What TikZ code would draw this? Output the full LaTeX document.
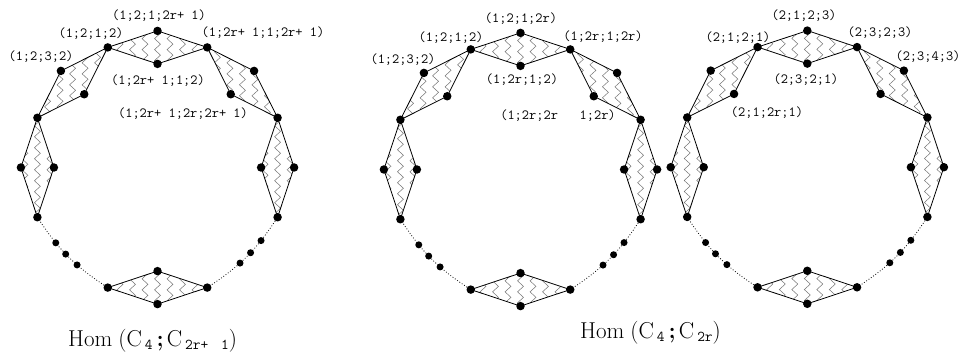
\documentclass[tikz,border=0pt]{standalone}
\usepackage{fontspec}
\usepackage{tikz}
\usetikzlibrary{calc,decorations.pathmorphing}

\tikzset{
  dot/.style={circle,fill=black,inner sep=0pt,minimum size=8.5pt},
  smalldot/.style={circle,fill=black,inner sep=0pt,minimum size=7pt},
  rim/.style={line width=0.8pt},
  wave/.style={black!55,line width=0.5pt,decorate,
    decoration={zigzag,segment length=11pt,amplitude=3pt}},
  vlabel/.style={font=\ttfamily\fontsize{14}{14}\selectfont,inner sep=0pt},
  homlabel/.style={font=\fontsize{23}{26}\selectfont,inner sep=0pt,anchor=base west}
}

% subscript in the Hom labels
\newcommand{\homsub}[1]{\raisebox{-3.5pt}{\ttfamily\fontsize{15}{15}\selectfont\addfontfeatures{LetterSpace=48}\kern3pt#1}}

% one ring of squares around the current origin, #1 = name prefix
\newcommand{\homring}[1]{%
  \foreach \k in {0,...,7} {
    \coordinate (#1v\k) at ({22.5+45*\k}:130);
    \coordinate (#1m\k) at ({45+45*\k}:120.1);
    \coordinate (#1o\k) at ({45+45*\k}:136.6);
    \coordinate (#1i\k) at ({45+45*\k}:103.6);
  }
  % the squares
  \foreach \k in {0,1,2,3,5,7} {
    \pgfmathtruncatemacro{\n}{mod(\k+1,8)}
    \begin{scope}
      \clip (#1v\k) -- (#1o\k) -- (#1v\n) -- (#1i\k) -- cycle;
      \foreach \dx in {-37.5,-25,...,37.5}
        \draw[wave] ($(#1m\k)+(\dx,-60)$) -- ($(#1m\k)+(\dx,60)$);
    \end{scope}
    \draw[rim] (#1v\k) -- (#1o\k) -- (#1v\n) -- (#1i\k) -- cycle;
  }
  % the dotted gaps
  \draw[dotted,line width=0.8pt] (#1v4) to[bend right=12]
    node[smalldot,pos=0.3] (#1p1) {} node[smalldot,pos=0.46] (#1p2) {}
    node[smalldot,pos=0.63] (#1p3) {} (#1v5);
  \draw[dotted,line width=0.8pt] (#1v6) to[bend right=12]
    node[smalldot,pos=0.4] (#1q1) {} node[smalldot,pos=0.56] (#1q2) {}
    node[smalldot,pos=0.73] (#1q3) {} (#1v7);
  % the vertices
  \foreach \k in {0,...,7}
    \node[dot] (#1dv\k) at (#1v\k) {};
  \foreach \k in {0,1,2,3,5,7} {
    \node[dot] (#1do\k) at (#1o\k) {};
    \node[dot] (#1di\k) at (#1i\k) {};
  }
}

\begin{document}
\begin{tikzpicture}[x=1pt,y=1pt]
  \useasboundingbox (0,0) rectangle (962,354);

  \begin{scope}[shift={(157.5,186.5)}]
    \homring{a}
    \node[vlabel] (a-top) at (1.5,151.5) {(1;2;1;2r+ 1)};
    \node[vlabel] (a-ul) at (-66.5,133.5) {(1;2;1;2)};
    \node[vlabel] (a-ur) at (105.5,134.5) {(1;2r+ 1;1;2r+ 1)};
    \node[vlabel] (a-ll) at (-116.5,110.5) {(1;2;3;2)};
    \node[vlabel] (a-in) at (0.5,86.5) {(1;2r+ 1;1;2)};
    \node[vlabel] (a-rr) at (25.5,53.5) {(1;2r+ 1;2r;2r+ 1)};
  \end{scope}

  \begin{scope}[shift={(520.5,184.5)}]
    \homring{b}
    \node[vlabel] (b-top) at (0.5,150.5) {(1;2;1;2r)};
    \node[vlabel] (b-ul) at (-69.5,131.5) {(1;2;1;2)};
    \node[vlabel] (b-ur) at (82.5,132.5) {(1;2r;1;2r)};
    \node[vlabel] (b-ll) at (-117.5,109.5) {(1;2;3;2)};
    \node[vlabel] (b-in) at (1.5,89.5) {(1;2r;1;2)};
    \node[vlabel] (b-rr) at (37.5,53.5) {(1;2r;2r\ \ \ 1;2r)};
  \end{scope}

  \begin{scope}[shift={(807.3,186.8)}]
    \homring{c}
    \node[vlabel] (c-top) at (-3.3,151.2) {(2;1;2;3)};
    \node[vlabel] (c-ul) at (-69.3,129.2) {(2;1;2;1)};
    \node[vlabel] (c-ur) at (72.7,134.2) {(2;3;2;3)};
    \node[vlabel] (c-rr) at (120.7,110.2) {(2;3;4;3)};
    \node[vlabel] (c-in) at (-1.3,87.2) {(2;3;2;1)};
    \node[vlabel] (c-ll) at (-40.3,54.2) {(2;1;2r;1)};
  \end{scope}

  \node[homlabel] (hom-odd) at (68,8)
    {Hom\kern6pt(C\homsub{4}\kern4pt\textbf{;}\kern3ptC\homsub{2r+ \kern5pt1})};
  \node[homlabel] (hom-even) at (580,16)
    {Hom\kern6pt(C\homsub{4}\kern4pt\textbf{;}\kern3ptC\homsub{2r})};
\end{tikzpicture}
\end{document}
